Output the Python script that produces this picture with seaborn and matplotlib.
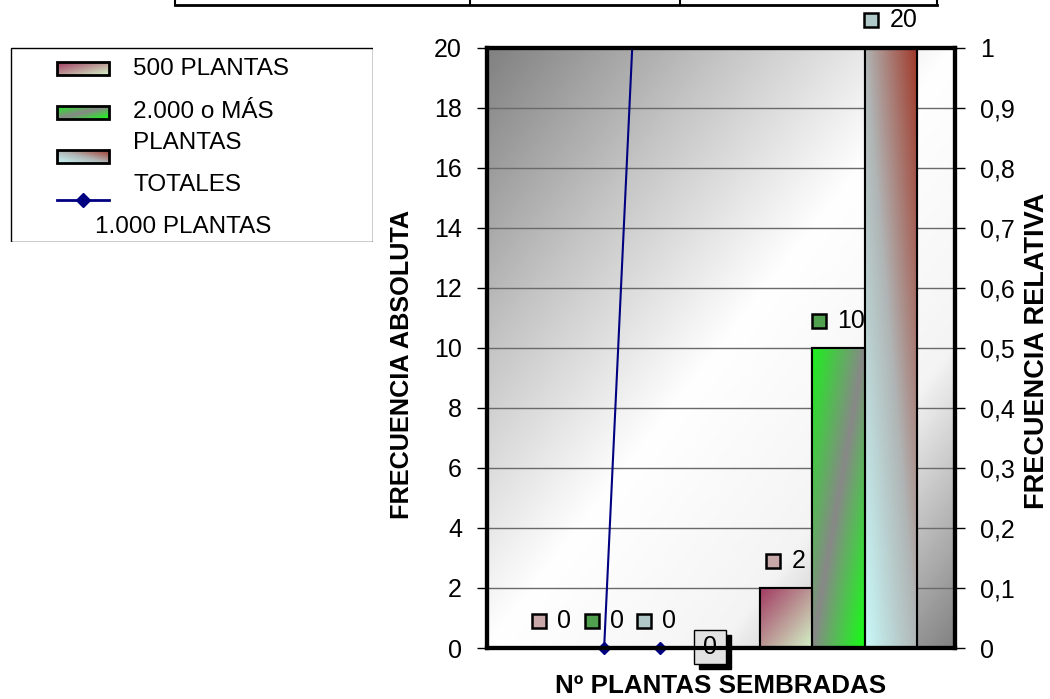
import numpy as np
import pandas as pd
import matplotlib
matplotlib.use("Agg")
import matplotlib.pyplot as plt
import seaborn as sns
from matplotlib.colors import LinearSegmentedColormap
from matplotlib.patches import Rectangle
from matplotlib.lines import Line2D
from matplotlib.offsetbox import AnnotationBbox, DrawingArea, HPacker, TextArea

# datos del grafico
grupos = ["G1", "G2"]
series = ["500 PLANTAS", "2.000 o MÁS PLANTAS", "TOTALES"]
plantas_500 = [0, 2]
plantas_2000 = [0, 10]
totales = [0, 20]

# serie de linea "1.000 PLANTAS" (va sobre otro eje de categorias)
linea_x = [0.0, 0.24]
linea_y = [0, 40]
linea2_x = [0.24, 0.45]
linea2_y = [0, 0]

ticks_abs = list(range(0, 21, 2))
ticks_rel = [0, 0.1, 0.2, 0.3, 0.4, 0.5, 0.6, 0.7, 0.8, 0.9, 1.0]
etiq_rel = ["0", "0,1", "0,2", "0,3", "0,4", "0,5", "0,6", "0,7", "0,8", "0,9", "1"]

# degradados
grad_500 = ["#a23a62", "#d4f4c8"]
grad_2000 = ["#1cf01c", "#888888", "#14ff14"]
grad_tot = ["#c8f8f8", "#b0b4b4", "#a03828"]
grad_fondo = ["#828282", "#c4c4c4", "#ffffff", "#f4f4f4", "#848484"]
colores = ["#c49aa0", "#58c058", "#b8c8c8"]
azul = "#000080"


def gradiente(stops, tipo="diag", w=80, h=80):
    u = np.linspace(0, 1, w)[None, :]
    v = np.linspace(0, 1, h)[:, None]
    if tipo == "diag":
        t = (u + v) / 2
    else:
        t = (u + 1 - v) / 2
    cmap = LinearSegmentedColormap.from_list("g", stops)
    return cmap(t)


plt.rcParams["font.family"] = ["Liberation Sans", "DejaVu Sans"]
fig = plt.figure(figsize=(10.5, 6.99), dpi=100)
ax = fig.add_axes([487 / 1050, 1 - 648 / 699, 468.5 / 1050, 600.5 / 699])

df = pd.DataFrame({
    "grupo": grupos * 3,
    "serie": np.repeat(series, 2),
    "valor": plantas_500 + plantas_2000 + totales,
})

sns.barplot(data=df, x="grupo", y="valor", hue="serie", hue_order=series,
            palette=colores, width=0.673, saturation=1, edgecolor="black",
            linewidth=1.5, legend=False, ax=ax, zorder=2)

# fondo degradado
ax.imshow(gradiente(grad_fondo), extent=(-0.5, 1.5, 0, 20), aspect="auto",
          zorder=0, interpolation="bilinear")

# degradado dentro de cada barra
estilos = [(grad_500, "diag"), (grad_2000, "diag"), (grad_tot, "anti")]
for cont, (stops, tipo) in zip(ax.containers, estilos):
    for bar in cont:
        h = bar.get_height()
        if h <= 0:
            continue
        x0, w = bar.get_x(), bar.get_width()
        im = ax.imshow(gradiente(stops, tipo), extent=(x0, x0 + w, 0, h),
                       aspect="auto", zorder=2.1, interpolation="bilinear")
        im.set_clip_path(bar)
        ax.add_patch(Rectangle((x0, 0), w, h, fill=False, ec="black",
                               lw=1.5, zorder=2.2))

# etiquetas de datos
cuadros = ["#c8a8a8", "#50a050", "#b0c8c8"]
for cont, col in zip(ax.containers, cuadros):
    for bar in cont:
        h = bar.get_height()
        xc = bar.get_x() + bar.get_width() / 2
        da = DrawingArea(10, 10, 0, 0)
        da.add_artist(Rectangle((0, 0), 10, 10, fc=col, ec="black", lw=1.8))
        ta = TextArea(f"{h:g}", textprops=dict(fontsize=18))
        pk = HPacker(children=[da, ta], align="center", pad=0, sep=8)
        ab = AnnotationBbox(pk, (xc, h), xybox=(0, 19.5), xycoords="data",
                            boxcoords="offset points", frameon=False,
                            box_alignment=(0.5, 0.5), annotation_clip=False,
                            zorder=5)
        ax.add_artist(ab)

# linea 1.000 PLANTAS
ax.plot(linea_x, linea_y, color=azul, lw=1.5, zorder=3)
ax.plot(linea2_x, linea2_y, color=azul, lw=1.5, zorder=3, clip_on=False)
ax.plot([linea_x[0], linea2_x[0]], [linea_y[0], linea2_y[0]], "D",
        color=azul, ms=6, zorder=4, clip_on=False)

# etiqueta en caja con sombra
caja = DrawingArea(26.6, 28.1, 0, 0)
caja.add_artist(Rectangle((3.6, 0), 23, 24.5, fc="black", ec="black", lw=1))
caja.add_artist(Rectangle((0, 3.6), 23, 24.5, fc="#e2e2e2", ec="black", lw=1))
caja.add_artist(plt.Text(11.5, 15.85, "0", ha="center", va="center",
                         fontsize=18))
ax.add_artist(AnnotationBbox(caja, (linea2_x[1], 0), xycoords="data",
                             frameon=False, box_alignment=(0.432, 0.53),
                             annotation_clip=False, zorder=6))

ax.set_xlim(-0.5, 1.5)
ax.set_ylim(0, 20)
ax.set_yticks(ticks_abs)
ax.set_axisbelow("line")
ax.grid(axis="y", color="#6a6a6a", lw=1)
ax.grid(axis="x", visible=False)
ax.tick_params(axis="x", length=0, labelbottom=False)
ax.tick_params(axis="y", length=7, width=1, pad=11, labelsize=18)
for s in ax.spines.values():
    s.set_linewidth(3)
    s.set_color("black")

ax.set_xlabel("Nº PLANTAS SEMBRADAS", fontsize=18.7, fontweight="bold")
ax.xaxis.set_label_coords(0.4995, -0.063)
ax.xaxis.label.set_va("center")
ax.set_ylabel("FRECUENCIA ABSOLUTA", fontsize=18.2, fontweight="bold")
ax.yaxis.set_label_coords(-0.181, 0.473)
ax.yaxis.label.set_va("center")

ax2 = ax.twinx()
ax2.set_ylim(0, 1)
ax2.set_yticks(ticks_rel, labels=etiq_rel)
ax2.tick_params(axis="y", length=7, width=1, pad=11, labelsize=18)
for s in ax2.spines.values():
    s.set_linewidth(3)
    s.set_color("black")
ax2.set_ylabel("FRECUENCIA RELATIVA", fontsize=19.5, fontweight="bold")
ax2.yaxis.set_label_coords(1.174, 0.495)
ax2.yaxis.label.set_va("center")

# leyenda
lg = fig.add_axes([10 / 1050, 1 - 242 / 699, 363 / 1050, 195 / 699])
lg.add_patch(Rectangle((0.5, 0.5), 362, 194, fill=False, ec="black", lw=1))
leg_grad = [(grad_500, "diag", 15), (grad_2000, "diag", 59), (grad_tot, "anti", 103)]
for stops, tipo, y0 in leg_grad:
    lg.imshow(gradiente(stops, tipo), extent=(47, 99, y0 + 13, y0),
              aspect="auto", interpolation="bilinear")
    lg.add_patch(Rectangle((47, y0), 52, 13, fill=False, ec="black", lw=2))
lg.plot([47, 99], [153, 153], color=azul, lw=2)
lg.plot([73], [153], "D", color=azul, ms=7)
lg.text(123, 22, "500 PLANTAS", va="center", fontsize=17.5)
lg.text(123, 65, "2.000 o MÁS", va="center", fontsize=17.5)
lg.text(123, 96, "PLANTAS", va="center", fontsize=17.5)
lg.text(123, 138, "TOTALES", va="center", fontsize=17.5)
lg.text(85, 180, "1.000 PLANTAS", va="center", fontsize=17.5)
lg.set_xlim(0, 363)
lg.set_ylim(195, 0)
lg.axis("off")

# trozo de tabla arriba
tf = fig.transFigure
yl = 1 - 5 / 699
fig.add_artist(Line2D([175 / 1050, 937 / 1050], [yl, yl], transform=tf,
                      color="black", lw=2))
for xv in [175, 470, 680, 937]:
    fig.add_artist(Line2D([xv / 1050, xv / 1050], [yl, 1.0], transform=tf,
                          color="black", lw=1.5))

fig.savefig("out.png", dpi=100)
